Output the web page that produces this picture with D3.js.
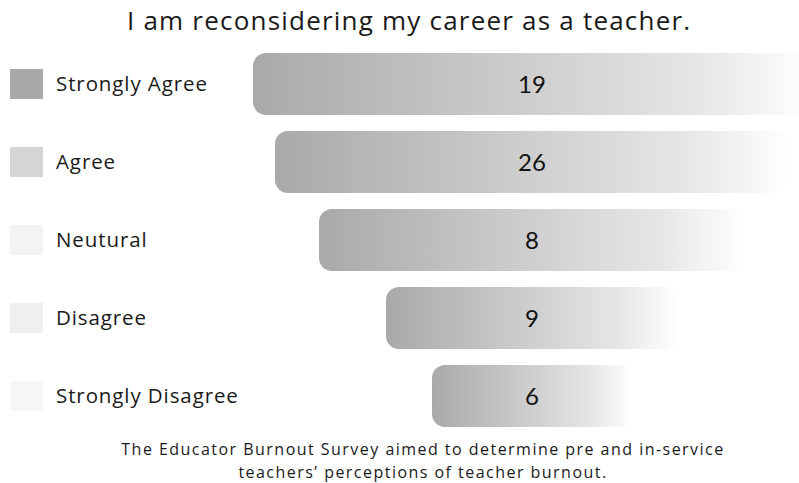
<!DOCTYPE html>
<html>
<head>
<meta charset="utf-8">
<script src="https://cdn.jsdelivr.net/npm/d3@7"></script>
<style>
  html, body { margin: 0; padding: 0; background: #fff; }
  svg { display: block; }
</style>
</head>
<body>
<div id="chart"></div>
<script>
'use strict';

// data
var categories = ['Strongly Agree', 'Agree', 'Neutural', 'Disagree', 'Strongly Disagree'];
var counts = [19, 26, 8, 9, 6];
var title = 'I am reconsidering my career as a teacher.';
var footnote = [
  'The Educator Burnout Survey aimed to determine pre and in-service',
  'teachers\u2019 perceptions of teacher burnout.'
];

var W = 799, H = 483;
var centerX = 532;

var svg = d3.select('#chart').append('svg')
  .attr('width', W)
  .attr('height', H);

// letter-spacing needed so that a text node reaches a given width
var spacingFor = function spacingFor(node, width) {
  var n = node.textContent.length;
  var w = node.getComputedTextLength();
  return (n > 1 && w < width) ? (width - w) / (n - 1) : 0;
};

// gradient for the funnel bars
var defs = svg.append('defs');
var grad = defs.append('linearGradient')
  .attr('id', 'barFade')
  .attr('x1', '0%').attr('x2', '100%')
  .attr('y1', '0%').attr('y2', '0%');
grad.append('stop').attr('offset', '0%').attr('stop-color', '#a9a9a9');
grad.append('stop').attr('offset', '45%').attr('stop-color', '#cbcbcb');
grad.append('stop').attr('offset', '80%').attr('stop-color', '#e6e6e6');
grad.append('stop').attr('offset', '100%').attr('stop-color', '#ffffff');

// scales
var y = d3.scaleBand()
  .domain(categories)
  .range([53, 427])
  .paddingInner(0.205)
  .paddingOuter(0);

// funnel shape: width by rank, not by value
var funnelW = d3.scaleLinear()
  .domain([0, 1, 2, 3, 4])
  .range([558, 514, 426, 292, 200]);

var swatch = d3.scaleOrdinal()
  .domain(categories)
  .range(['#a9a9a9', '#d5d5d5', '#f3f3f3', '#efefef', '#f7f7f7']);

// title
var titleText = svg.append('text')
  .attr('x', 127)
  .attr('y', 30)
  .attr('font-family', '"Open Sans", sans-serif')
  .attr('font-size', 26)
  .attr('fill', '#1a1a1a')
  .text(title);
titleText.attr('letter-spacing', spacingFor(titleText.node(), 563).toFixed(2));

// bars
var rows = svg.append('g').selectAll('g.row')
  .data(categories)
  .join('g')
  .attr('class', 'row');

rows.append('rect')
  .attr('x', function(d, i) { return centerX - funnelW(i) / 2; })
  .attr('y', function(d) { return y(d); })
  .attr('width', function(d, i) { return funnelW(i); })
  .attr('height', y.bandwidth())
  .attr('rx', 13)
  .attr('ry', 13)
  .attr('fill', 'url(#barFade)');

rows.append('text')
  .attr('x', centerX)
  .attr('y', function(d) { return y(d) + y.bandwidth() / 2; })
  .attr('dy', '0.36em')
  .attr('text-anchor', 'middle')
  .attr('font-family', 'Lato, sans-serif')
  .attr('font-size', 24)
  .attr('fill', '#111')
  .text(function(d, i) { return counts[i]; });

// legend
var legend = svg.append('g').selectAll('g.leg')
  .data(categories)
  .join('g')
  .attr('class', 'leg');

legend.append('rect')
  .attr('x', 10)
  .attr('y', function(d) { return y(d) + y.bandwidth() / 2 - 15; })
  .attr('width', 33)
  .attr('height', 30)
  .attr('fill', function(d) { return swatch(d); });

legend.append('text')
  .attr('x', 56)
  .attr('y', function(d) { return y(d) + y.bandwidth() / 2; })
  .attr('dy', '0.36em')
  .attr('font-family', '"Open Sans", sans-serif')
  .attr('font-size', 20.5)
  .attr('letter-spacing', 0.9)
  .attr('fill', '#1a1a1a')
  .text(function(d) { return d; });

// footnote
var foot = svg.append('g').selectAll('text')
  .data(footnote)
  .join('text')
  .attr('x', 423)
  .attr('y', function(d, i) { return 455 + i * 22.5; })
  .attr('text-anchor', 'middle')
  .attr('font-family', '"Open Sans", sans-serif')
  .attr('font-size', 16)
  .attr('fill', '#1a1a1a')
  .text(function(d) { return d; });
var footSpacing = spacingFor(foot.nodes()[0], 602);
foot.attr('letter-spacing', footSpacing.toFixed(2));
</script>
</body>
</html>
